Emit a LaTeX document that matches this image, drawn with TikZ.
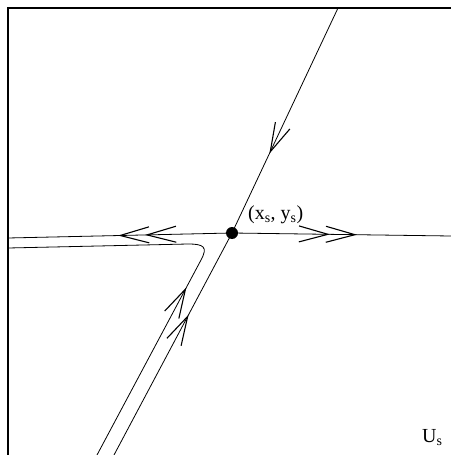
\documentclass[tikz,border=0pt]{standalone}
\usepackage{fontspec}
\setmainfont{Liberation Serif}
\usepackage{tikz}
\usetikzlibrary{arrows.meta,decorations.markings}

\begin{document}
\begin{tikzpicture}[
  x=1bp,y=-1bp,font=\fontsize{20}{22}\selectfont,
  >={Straight Barb[length=29bp,width=16bp,line width=1.1bp]},
  frame/.style={line width=1.2bp},
  orbit/.style={line width=0.8bp},
  saddle/.style={circle, fill=black, inner sep=0pt, minimum size=12bp},
  onearrow/.style={postaction={decorate}, decoration={markings,
    mark=at position #1 with {\arrow{>}}}},
  twoarrows/.style 2 args={postaction={decorate}, decoration={markings,
    mark=at position #1 with {\arrow{>}},
    mark=at position #2 with {\arrow{>}}}},
  lbl/.style={anchor=base west, inner sep=0pt}
]
  \useasboundingbox (0,0) rectangle (451,455);
  \draw[frame] (451,8) -- (8,8) -- (8,455);

  \node[saddle] (S) at (232,233) {};
  % unstable manifold
  \draw[orbit, twoarrows={87bp}{114bp}] (S.center) -- (8,238);
  \draw[orbit, twoarrows={98bp}{125bp}] (S.center) -- (451,236);
  % stable manifold
  \draw[orbit, onearrow=161bp] (338,8) -- (S.center);
  \draw[orbit, onearrow=159bp] (114,455) -- (S.center);
  % nearby orbit
  \draw[orbit, onearrow=190bp] (97,455) -- (201,260)
    .. controls (208,247) and (204,244) .. (188,244) -- (8,248);

  \node[lbl] (xy) at (248,219.5) {(x\textsubscript{s}, y\textsubscript{s})};
  \node[lbl] (Us) at (422,442) {U\textsubscript{s}};
\end{tikzpicture}
\end{document}
